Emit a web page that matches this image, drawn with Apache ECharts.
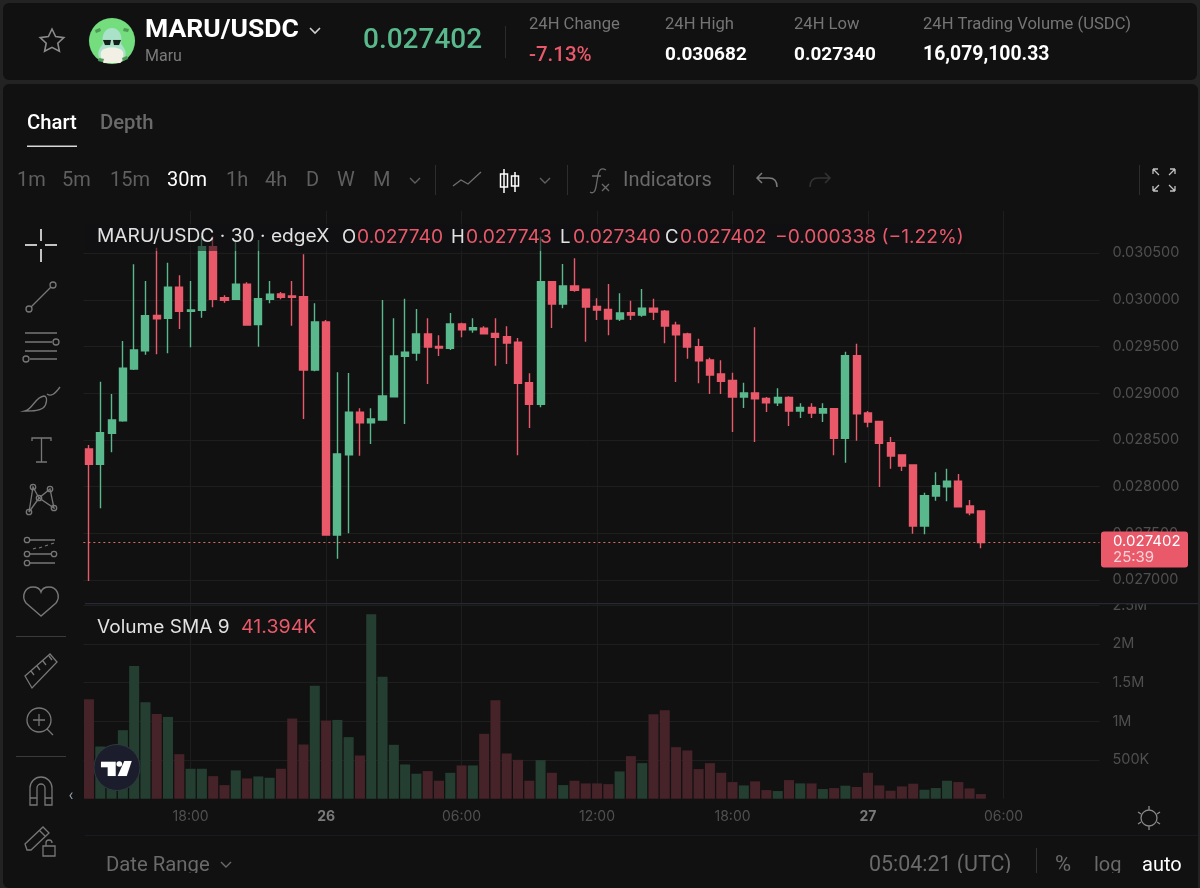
<!DOCTYPE html>
<html>
<head>
<meta charset="utf-8">
<title>MARU/USDC</title>
<script src="https://cdn.jsdelivr.net/npm/echarts@6/dist/echarts.min.js"></script>
<style>
html,body{margin:0;padding:0;background:#232323;}
#main{width:1200px;height:888px;}
</style>
</head>
<body>
<div id="main"></div>
<script>
// 30m candles, one entry per bar
var opens=[.028403,.028239,.028571,.028706,.029259,.029455,.029834,.029802,.030134,.029877,
.029888,.030569,.030023,.030005,.030166,.029734,.030005,.030062,.030041,.030033,
.029248,.029762,.027482,.028342,.028796,.028684,.028713,.028963,.029395,.029430,
.029634,.029502,.029481,.029741,.029680,.029695,.029641,.029605,.029545,.029112,
.028881,.030194,.029955,.030148,.030113,.029930,.029898,.029795,.029862,.029837,
.029909,.029877,.029727,.029634,.029498,.029356,.029206,.029138,.028959,.029002,
.028945,.028898,.028956,.028809,.028849,.028788,.028834,.028517,.029402,.028788,
.028699,.028470,.028338,.028231,.027578,.027899,.027999,.028057,.027792,.027740];
var closes=[.028239,.028577,.028713,.029267,.029463,.029830,.029798,.030134,.029877,.029891,
.030569,.030005,.029995,.030166,.029730,.030012,.030059,.030027,.030027,.029248,
.029762,.027482,.028349,.028796,.028684,.028724,.028970,.029398,.029438,.029634,
.029495,.029484,.029741,.029680,.029701,.029637,.029599,.029538,.029106,.028881,
.030194,.029955,.030148,.030102,.029923,.029891,.029795,.029859,.029837,.029909,
.029869,.029720,.029626,.029495,.029348,.029195,.029127,.028959,.029002,.028941,
.028898,.028956,.028809,.028849,.028788,.028834,.028517,.029402,.028781,.028692,
.028464,.028328,.028221,.027578,.027903,.028010,.028057,.027785,.027721,.027402];
var lows=[.026989,.027768,.028367,.028695,.029248,.029412,.029417,.029427,.029687,.029492,
.029808,.029920,.029969,.029998,.029727,.029498,.029963,.030005,.029723,.028724,
.029235,.027482,.027228,.027500,.028331,.028456,.028706,.028963,.028670,.029348,
.029099,.029398,.029463,.029599,.029648,.029634,.029295,.029313,.028335,.028627,
.028849,.029698,.029909,.030087,.029552,.029784,.029620,.029773,.029784,.029819,
.029784,.029534,.029120,.029369,.029106,.028991,.028991,.028585,.028842,.028478,
.028799,.028863,.028649,.028735,.028735,.028692,.028335,.028256,.028492,.028635,
.027996,.028192,.028167,.027496,.027489,.027849,.027843,.027785,.027693,.027340];
var highs=[.028445,.029123,.028991,.029559,.030380,.030201,.030558,.030397,.030262,.030201,
.030682,.030680,.030048,.030640,.030187,.030640,.030201,.030084,.030201,.030487,
.029963,.029784,.029224,.029216,.028838,.028838,.029998,.029802,.030012,.029902,
.029802,.029620,.029859,.029755,.029802,.029716,.029802,.029716,.029591,.029213,
.030676,.030201,.030383,.030444,.030119,.030016,.030169,.030070,.029990,.030116,
.030012,.029891,.029766,.029648,.029584,.029380,.029352,.029220,.029112,.029706,
.028959,.029053,.028967,.028892,.028892,.028892,.028838,.029444,.029530,.028809,
.028702,.028531,.028346,.028239,.027935,.028153,.028192,.028135,.027857,.027743];
var volumes=[1286000,675000,477000,886000,1716000,1247000,1097000,1058000,576000,387000,
387000,292000,176000,366000,262000,288000,271000,387000,1037000,701000,
1462000,1011000,1019000,796000,559000,2387000,1578000,697000,443000,323000,
357000,232000,335000,430000,430000,839000,1273000,585000,503000,232000,
499000,335000,176000,232000,198000,198000,189000,353000,551000,460000,
1092000,1144000,667000,624000,383000,460000,335000,215000,172000,224000,
112000,99000,241000,198000,198000,125000,138000,168000,151000,335000,
172000,103000,159000,194000,116000,138000,232000,215000,133000,60000];
var priceTicks=[.027,.0275,.028,.0285,.029,.0295,.03,.0305];
var volumeTicks=[500000,1000000,1500000,2000000,2500000];
var timeTickIndex=[9,21,33,45,57,69,81];
var timeTickLabels=['18:00','26','06:00','12:00','18:00','27','06:00'];
var slotCount=90;

var GREEN='#5ab98c',RED='#e9596a',PANEL='#111112',GRID='#1e1e1f';
var VOL_GREEN='#243f31',VOL_RED='#462229';
var FONT='Inter, sans-serif',HEAD='Roboto, sans-serif';
var ICON='#777777';

// category slots run past the last bar, only a few of them carry a label
var categories=[];
for(var i=0;i<slotCount;i++){
	var k=timeTickIndex.indexOf(i);
	categories.push(k>=0?timeTickLabels[k]:'');
}
var candleData=opens.map(function(o,i){return [o,closes[i],lows[i],highs[i]];});
var volumeData=volumes.map(function(v,i){
	return {value:v,itemStyle:{color:closes[i]>=opens[i]?VOL_GREEN:VOL_RED}};
});
function isTimeTick(i){return timeTickIndex.indexOf(i)>=0;}
var lastClose=closes[closes.length-1];

var elements=[];
var iconCount=0;
function txt(x,y,s,size,color,weight,family,align,sx){
	// middle alignment sits a little high in both fonts
	var el={type:'text',z:100,style:{x:x,y:y+1.5,text:s,fill:color,align:align||'left',verticalAlign:'middle',
		font:(weight||400)+' '+size+'px '+(family||FONT)}};
	if(sx){el.originX=x;el.originY=y;el.scaleX=sx;}
	elements.push(el);
}
function box(x,y,w,h,fill,r,z){
	elements.push({type:'rect',z:z==null?100:z,shape:{x:x,y:y,width:w,height:h,r:r||0},style:{fill:fill}});
}
function dot(cx,cy,r,stroke,fill,w){
	elements.push({type:'circle',z:100,shape:{cx:cx,cy:cy,r:r},style:{stroke:stroke||ICON,fill:fill||'none',lineWidth:w||1.3}});
}
// the graphic component has no plain path type, so each icon gets a registered shape
function ico(d,stroke,w,fill){
	var name='toolIcon'+(iconCount++);
	echarts.graphic.registerShape(name,echarts.graphic.extendPath(d));
	elements.push({type:name,z:100,style:{stroke:stroke||ICON,lineWidth:w||1.3,fill:fill||'none'}});
}

// panels
box(3,3,1194,77,PANEL,6,-10);
box(3,84,1195,804,PANEL,6,-10);

// header
ico('M52 29l3.6 7.6 8.2 1-6 5.6 1.6 8.1-7.4-4-7.4 4 1.6-8.1-6-5.6 8.2-1z','#8a8a8a',1.6);
dot(112,41,23,'#74de7e','#74de7e',0.1);
ico('M100 60c-4-8 0-12 3-16-2-10 3-16 9-16s11 6 9 16c3 4 7 8 3 16c-8 4-16 4-24 0z','#a9e2c9',0.1,'#a9e2c9');
ico('M101 52c2-6 20-6 22 0c1 5-1 10-3 11h-16c-2-1-4-6-3-11z','#f2f0e4',0.1,'#f2f0e4');
ico('M103 40h8l-1 5h-5zM113 40h8l-2 5h-5z','#16201a',0.1,'#16201a');
ico('M95 30l5-2 1 3-5 2zM124 28l5 1-1 3-5-1zM99 58l5 1-1 3-5-1zM122 58l5-2 1 3-5 2z','#4f9a56',0.1,'#4f9a56');
txt(145,29,'MARU/USDC',26.5,'#ffffff',700,HEAD);
txt(145,55,'Maru',16,'#7a7a7a',400,HEAD);
ico('M310 28l5 5 5-5','#d0d0d0',1.6);
txt(363,39,'0.027402',28,GREEN,500,HEAD);
box(505,26,1,32,'#2b2b2b');
txt(529,23,'24H Change',16.6,'#757575',400,HEAD);
txt(529,54,'-7.13%',20.5,RED,500,HEAD);
txt(665,23,'24H High',16.6,'#757575',400,HEAD);
txt(665,54,'0.030682',19,'#ffffff',700,HEAD);
txt(794,23,'24H Low',16.6,'#757575',400,HEAD);
txt(794,54,'0.027340',19,'#ffffff',700,HEAD);
txt(923,23,'24H Trading Volume (USDC)',16.6,'#757575',400,HEAD);
txt(923,54,'16,079,100.33',19.4,'#ffffff',700,HEAD);

// tabs
txt(27,122,'Chart',20.3,'#ffffff',500,HEAD);
box(27,145.5,50,1.4,'#d8d8d8');
txt(100,122,'Depth',20.3,'#6a6a6a',500,HEAD);

// toolbar
var intervals=[['1m',17],['5m',62],['15m',110],['30m',167],['1h',226],['4h',265],['D',306],['W',337],['M',373]];
intervals.forEach(function(a){
	txt(a[1],179,a[0],20,a[0]=='30m'?'#ffffff':'#5f5f5f',400,HEAD);
});
ico('M410 178l5 5 5-5','#5f5f5f',1.4);
[435,567,733,1139].forEach(function(x){box(x,165,1,30,'#2d2d2d');});
ico('M453 186l8-6 7 4 13-12','#6f6f6f',1.3);
ico('M504 169v24M515 172v20M500.500 174h7v13h-7zM511.500 176h7v10h-7z','#ffffff',1.5);
ico('M540 178l5 5 5-5','#5f5f5f',1.4);
ico('M606 170c-5-3-7 0-8 5l-2 12c-1 5-3 7-6 5M592 176h9M602 184l7 7M609 184l-7 7','#6a6a6a',1.3);
txt(623,179,'Indicators',20,'#6a6a6a',400,HEAD);
ico('M762 173l-5 5 5 5M757 178h12c5 0 8 3 8 9','#7a7a7a',1.5);
ico('M825 173l5 5-5 5M830 178h-12c-5 0-8 3-8 9','#333333',1.5);
ico('M1153 169l6 6M1153 169h5M1153 169v5M1175 169l-6 6M1175 169h-5M1175 169v5M1153 191l6-6M1153 191h5M1153 191v-5M1175 191l-6-6M1175 191h-5M1175 191v-5','#c0c0c0',1.3);

// drawing tools
ico('M25 245h12M45 245h12M41 229v12M41 249v13','#ffffff',1.5);
ico('M31 307L51 287');
dot(29,309,3);dot(53,285,3);
ico('M25 333h32M25 342h27M25 351h32M30 359h27');
dot(56,342,3);dot(26,359,3);
ico('M25 411c8-2 10-14 19-15 4 0 3 9-1 12-4 3-10 3-18 3zM47 394c4 3 8 0 13-7');
ico('M32 441v-3h19v3M41.500 438v24M36 462h11');
ico('M29 512L33 487L39 498L50 489L54 508L39 498L29 512');
dot(33,487,2.7);dot(50,489,2.7);dot(39,498,2.7);dot(29,512,2.7);dot(54,508,2.7);
ico('M30 540h25M30 554h21M30 563h25');
ico('M33 549l3-1M39 548l3-1M45 546l3-1M51 544l3-1');
dot(27,540,2.7);dot(27,554,2.7);dot(54,554,2.7);dot(27,563,2.7);
ico('M41 616L26 603C21 596 25 587 33 587C37 587 40 589 41 592C42 589 45 587 49 587C57 587 61 596 56 603Z',ICON,1.4);
box(16,636,50,1,'#3a3a3a');
ico('M25 676L50 654L57 662L32 688ZM31 671l3 4M37 666l3 4M43 661l3 4M49 656l3 4');
dot(39,720,12);
ico('M47 729l6 6M39 714v12M33 720h12');
box(16,756,50,1,'#3a3a3a');
ico('M30 805v-17a11 11 0 0 1 22 0v17h-7v-17a4 4 0 0 0-8 0v17zM30 798h7M45 798h7');
txt(71,794,'‹',16,'#8fa0b0',400,HEAD,'center');
ico('M27 850l-2-6 18-17 6 6-18 17zM39 830l6 6');
ico('M43 846h12v10h-12zM46 846v-3a3 3 0 0 1 6 0');

// legend, with the fade the platform puts under it
box(85,224,880,27,'rgba(17,17,18,0.55)',0,50);
txt(97,235,'MARU/USDC · 30 · edgeX',18,'#e2e2e2',400,FONT,'left',1.065);
[['O',342,'0.027740',357],['H',451,'0.027743',466],['L',560,'0.027340',573],['C',665,'0.027402',680]].forEach(function(a){
	txt(a[1],236,a[0],18,'#e2e2e2',400,FONT,'left',1.03);
	txt(a[3],236,a[2],18,RED,400,FONT,'left',1.068);
});
txt(775,236,'−0.000338 (−1.22%)',18,RED,400,FONT,'left',1.065);
txt(97,626,'Volume SMA 9',18,'#e2e2e2',400,FONT,'left',1.06);
txt(241,626,'41.394K',18,RED,400,FONT,'left',1.09);

// pane separator, hides the top half of the 2.5M label
box(1104,596,92,7,PANEL,0,90);
box(85,603,1113,1.2,'#272a36');

// tradingview badge
dot(117,767.5,23,'#2e3a3c','#1b1c2c',1);
ico('M101 761.700h14.700v14.300h-8v-8.700h-6.700zM124.300 761h7.400l-5 15h-9z','#ffffff',0.1,'#ffffff');
dot(119.3,764,2.8,'#ffffff','#ffffff',0.1);

// time axis footer and bottom bar
box(85,835,1113,1,'#191a20',0,60);
ico('M1141 818a8 8 0 1 0 16 0a8 8 0 1 0-16 0M1149 806v4M1149 826v4M1138 812l3 2M1157 822l3 2M1138 824l3-2M1157 814l3-2','#8a8a8a',1.3);
txt(106,864,'Date Range',20.3,'#6a6a6a',400,HEAD);
ico('M221 862l5 5 5-5','#6a6a6a',1.4);
txt(869,864,'05:04:21 (UTC)',21.4,'#6a6a6a',400,HEAD);
box(1036,848,1,25,'#333333');
txt(1055,864,'%',22,'#6a6a6a',400,HEAD);
txt(1094,864,'log',20,'#6a6a6a',400,HEAD);
txt(1142,864,'auto',20,'#ffffff',400,HEAD);
box(85,873,1113,15,PANEL,0,110);

var myChart=echarts.init(document.getElementById('main'));
var sharedX={type:'category',data:categories,boundaryGap:true,
	axisLine:{show:false},axisTick:{show:false},
	splitLine:{show:true,interval:function(i){return isTimeTick(i);},alignWithLabel:true,lineStyle:{color:GRID,width:1}}};

myChart.setOption({
	animation:false,
	backgroundColor:'#232323',
	grid:[
		{left:83.35,right:100.55,top:211,bottom:285},
		{left:83.35,right:100.55,top:603,bottom:89.3}
	],
	xAxis:[
		Object.assign({},sharedX,{gridIndex:0,axisLabel:{show:false}}),
		Object.assign({},sharedX,{gridIndex:1,axisLabel:{
			show:true,interval:function(i){return isTimeTick(i);},margin:11,color:'#505050',
			fontFamily:FONT,fontSize:14,hideOverlap:false,
			formatter:function(v){return v.indexOf(':')<0?'{b|'+v+'}':v;},
			rich:{b:{fontFamily:FONT,fontSize:14,fontWeight:700,color:'#7a7a7a'}}
		}})
	],
	yAxis:[
		{type:'value',gridIndex:0,position:'right',min:.026754,max:.030951,scale:true,
			axisLine:{show:false},
			axisTick:{show:false,customValues:priceTicks},
			splitLine:{show:true,lineStyle:{color:GRID,width:1}},
			axisLabel:{customValues:priceTicks,margin:13,color:'#4f4f4f',fontFamily:FONT,fontSize:14.5,
				formatter:function(v){return v.toFixed(6);}}},
		{type:'value',gridIndex:1,position:'right',min:0,max:2531000,
			axisLine:{show:false},
			axisTick:{show:false,customValues:volumeTicks},
			splitLine:{show:true,lineStyle:{color:GRID,width:1}},
			axisLabel:{customValues:volumeTicks,margin:13,color:'#4f4f4f',fontFamily:FONT,fontSize:14.5,
				formatter:function(v){return v>=1000000?(v/1000000)+'M':(v/1000)+'K';}}}
	],
	series:[
		{type:'candlestick',name:'MARU/USDC',xAxisIndex:0,yAxisIndex:0,data:candleData,barWidth:7.6,
			itemStyle:{color:GREEN,color0:RED,borderColor:GREEN,borderColor0:RED,borderWidth:1.4},
			markLine:{silent:true,symbol:'none',animation:false,precision:6,label:{show:false},
				lineStyle:{color:'#e9796a',type:[2,3],width:1.2,opacity:.9},
				data:[{yAxis:lastClose}]}},
		{type:'bar',name:'Volume',xAxisIndex:1,yAxisIndex:1,data:volumeData,barWidth:10}
	]
});

// last price tag follows the last close on the price scale
var lastY=myChart.convertToPixel({yAxisIndex:0},lastClose);
box(1101,lastY-11,87,36,RED,3,95);
txt(1113,lastY-2,lastClose.toFixed(6),15,'#ffffff');
txt(1113,lastY+14,'25:39',15,'#f7d3d7');
myChart.setOption({graphic:{elements:elements}});
</script>
</body>
</html>
